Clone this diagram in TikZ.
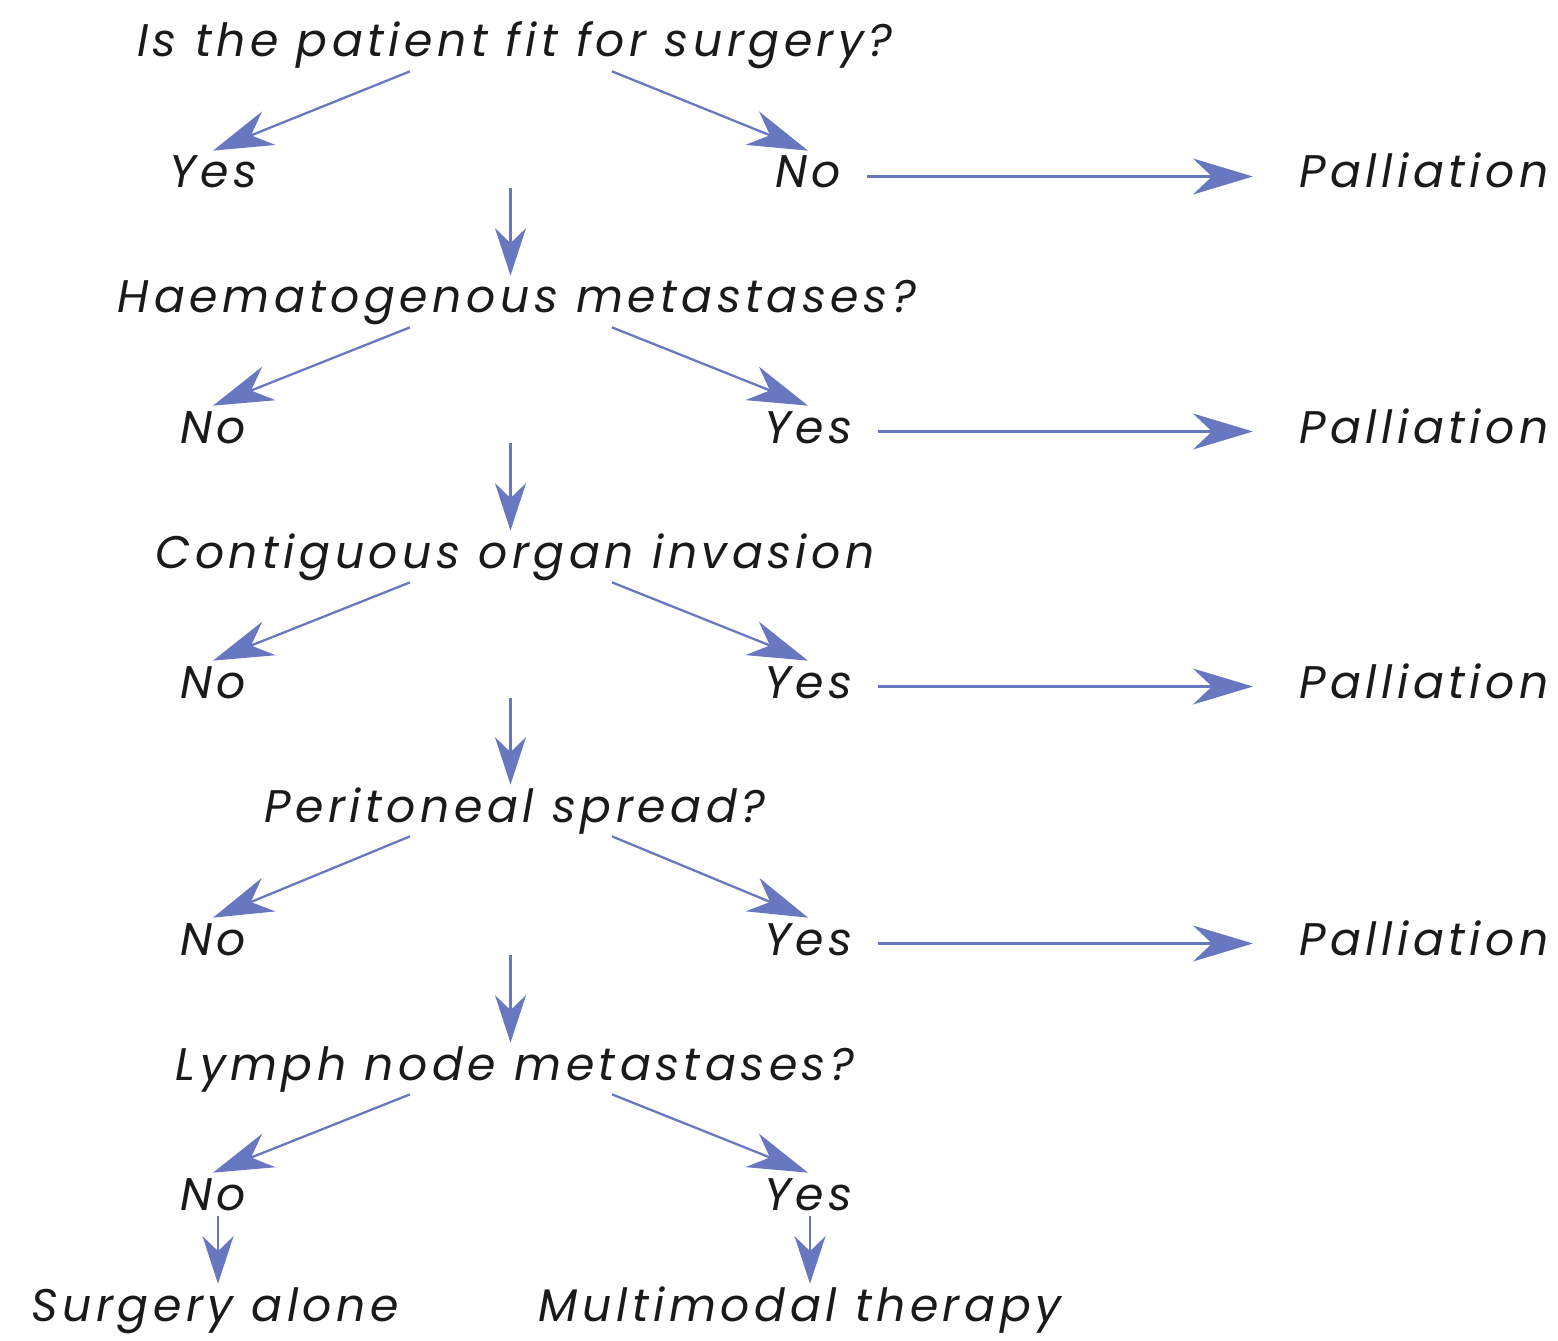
\documentclass[tikz,border=0pt]{standalone}
\usepackage{fontspec}
\setmainfont{Poppins}[LetterSpace=10]
\usetikzlibrary{arrows.meta,calc}
\definecolor{arrow-blue}{HTML}{6878C0}
\definecolor{ink}{HTML}{1A1A1A}

\begin{document}
\begin{tikzpicture}[x=0.02cm,y=-0.02cm,
    every node/.style={font=\fontsize{26}{30}\selectfont\itshape, text=ink, anchor=base,
      text height=0.62cm, text depth=0.16cm, inner sep=0.12cm},
    arr/.style={draw=arrow-blue, line width=1.3pt, -{Stealth[length=1.2cm,width=0.72cm,inset=0.38cm]}},
    downarr/.style={arr, -{Stealth[length=0.95cm,width=0.62cm,inset=0.3cm]}}]
    \useasboundingbox (0,0) rectangle (1558,1341);
    % questions
    \node (q1) at (515,57) {Is the patient fit for surgery?};
    \node (q2) at (517,313) {Haematogenous metastases?};
    \node (q3) at (515,568) {Contiguous organ invasion};
    \node (q4) at (515,822) {Peritoneal spread?};
    \node (q5) at (515,1080) {Lymph node metastases?};
    % answers
    \node (a1y) at (213,188) {Yes};
    \node (a1n) at (808,188) {No};
    \node (a2n) at (213,443) {No};
    \node (a2y) at (808,443) {Yes};
    \node (a3n) at (213,698) {No};
    \node (a3y) at (808,698) {Yes};
    \node (a4n) at (213,955) {No};
    \node (a4y) at (808,955) {Yes};
    \node (a5n) at (213,1210) {No};
    \node (a5y) at (808,1210) {Yes};
    % outcomes
    \node (p1) at (1424,188) {Palliation};
    \node (p2) at (1424,443) {Palliation};
    \node (p3) at (1424,698) {Palliation};
    \node (p4) at (1424,955) {Palliation};
    \node (sa) at (215,1321) {Surgery alone};
    \node (mt) at (800,1321) {Multimodal therapy};

    \draw[arr] ($(q1.south)+(-105,0)$) -- (a1y.north);
    \draw[arr] ($(q1.south)+(97,0)$) -- (a1n.north);
    \draw[arr, shorten <=0.4cm, shorten >=0.8cm] (a1n.east) -- (p1.west);
    \draw[downarr] ($(a1y.base)!.5!(a1n.base)$) coordinate (d1) -- (d1 |- q2.north);

    \draw[arr] ($(q2.south)+(-107,0)$) -- (a2n.north);
    \draw[arr] ($(q2.south)+(95,0)$) -- (a2y.north);
    \draw[arr, shorten <=0.4cm, shorten >=0.8cm] (a2y.east) -- (p2.west);
    \draw[downarr] ($(a2n.base)!.5!(a2y.base)$) coordinate (d2) -- (d2 |- q3.north);

    \draw[arr] ($(q3.south)+(-105,0)$) -- (a3n.north);
    \draw[arr] ($(q3.south)+(97,0)$) -- (a3y.north);
    \draw[arr, shorten <=0.4cm, shorten >=0.8cm] (a3y.east) -- (p3.west);
    \draw[downarr] ($(a3n.base)!.5!(a3y.base)$) coordinate (d3) -- (d3 |- q4.north);

    \draw[arr] ($(q4.south)+(-105,0)$) -- (a4n.north);
    \draw[arr] ($(q4.south)+(97,0)$) -- (a4y.north);
    \draw[arr, shorten <=0.4cm, shorten >=0.8cm] (a4y.east) -- (p4.west);
    \draw[downarr] ($(a4n.base)!.5!(a4y.base)$) coordinate (d4) -- (d4 |- q5.north);

    \draw[arr] ($(q5.south)+(-105,0)$) -- (a5n.north);
    \draw[arr] ($(q5.south)+(97,0)$) -- (a5y.north);
    \draw[downarr] ($(a5n.base)+(5,6)$) coordinate (d5) -- (d5 |- sa.north);
    \draw[downarr] ($(a5y.base)+(2,6)$) coordinate (d6) -- (d6 |- mt.north);
  \end{tikzpicture}
\end{document}
